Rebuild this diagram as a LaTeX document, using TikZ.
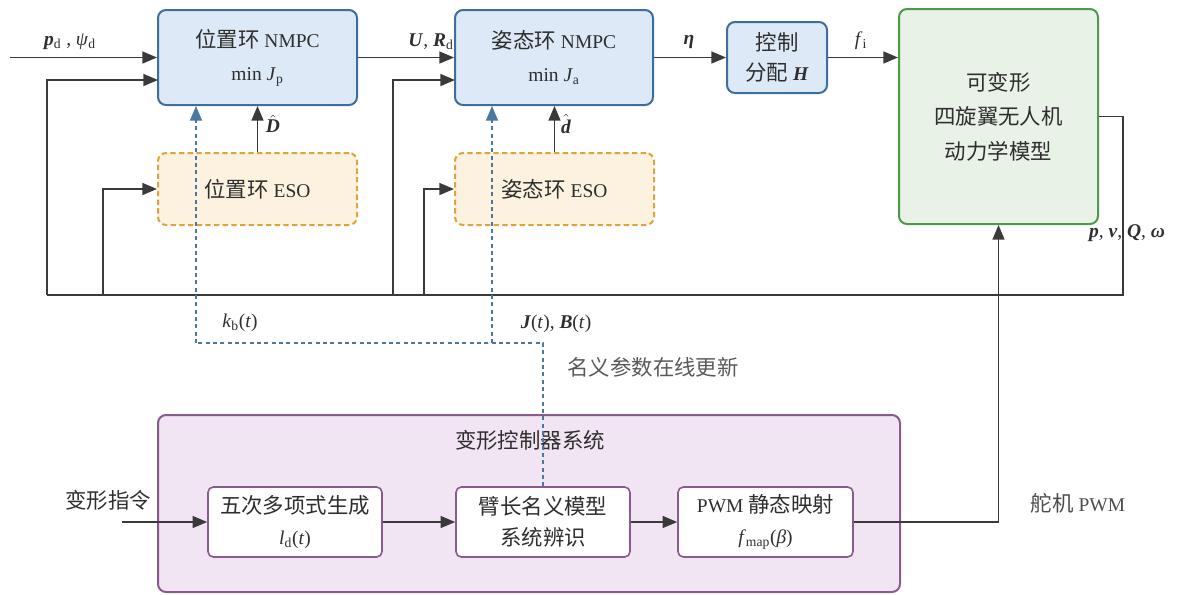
\documentclass[tikz,border=0pt]{standalone}
\usepackage{amsmath}
\usepackage{fontspec}
\setmainfont{Liberation Serif}
\newfontfamily\cjk[Scale=1.1]{Noto Sans CJK SC}
\usetikzlibrary{arrows.meta,calc}
\definecolor{ln}{HTML}{3A3A3A}
\definecolor{bfill}{HTML}{DDE9F6}
\definecolor{bdraw}{HTML}{3F6E9C}
\definecolor{gfill}{HTML}{E8F2E6}
\definecolor{gdraw}{HTML}{4E9A4A}
\definecolor{ofill}{HTML}{FDF2DF}
\definecolor{odraw}{HTML}{E0A23A}
\definecolor{pfill}{HTML}{F2E5F3}
\definecolor{pdraw}{HTML}{8A5A8E}
\definecolor{dblue}{HTML}{4A78A2}
\definecolor{txt}{HTML}{2E2E2E}
\newcommand\bi[1]{\textbf{\textit{#1}}}
\begin{document}
\begin{tikzpicture}[x=0.75pt,y=-0.75pt,
  every node/.style={text=txt,font=\fontsize{14.6}{25}\selectfont},
  box/.style={draw,rounded corners=6pt,line width=1.5pt,align=center,inner sep=0pt},
  bluebox/.style={box,draw=bdraw,fill=bfill},
  greenbox/.style={box,draw=gdraw,fill=gfill},
  esobox/.style={box,draw=odraw,fill=ofill,dashed,dash pattern=on 4pt off 2.5pt},
  purplebox/.style={box,draw=pdraw,fill=pfill},
  whitebox/.style={box,draw=pdraw,fill=white,line width=1.2pt,rounded corners=4pt},
  wire/.style={draw=ln,line width=1.1pt},
  arr/.style={wire,-{Triangle[length=11pt,width=9pt]}},
  bdash/.style={draw=dblue,line width=1pt,dash pattern=on 3pt off 2.5pt},
  barr/.style={bdash,-{Triangle[length=11pt,width=9pt,fill=dblue]}},
  lbl/.style={inner sep=1pt}
]
\useasboundingbox (0,0) rectangle (1177,594);

% boxes
\node[bluebox,minimum width=149.25pt,minimum height=71.25pt] (b1) at (257.5,57.5) {{\cjk 位置环} NMPC\\min \textit{J}\textsubscript{p}};
\node[bluebox,minimum width=148.5pt,minimum height=71.25pt] (b2) at (554,57.5) {{\cjk 姿态环} NMPC\\min \textit{J}\textsubscript{a}};
\node[bluebox,minimum width=75pt,minimum height=53.25pt,font=\fontsize{14.6}{23}\selectfont] (h) at (777,57.5) {{\cjk 控制}\\{\cjk 分配} \bi{H}};
\node[greenbox,minimum width=149.25pt,minimum height=161.25pt,font=\fontsize{14.6}{26}\selectfont] (pl) at (998.5,116.5) {{\cjk 可变形}\\{\cjk 四旋翼无人机}\\{\cjk 动力学模型}};
\node[esobox,minimum width=149.25pt,minimum height=54pt] (e1) at (257.5,189) {{\cjk 位置环} ESO};
\node[esobox,minimum width=149.25pt,minimum height=54pt] (e2) at (554.5,189) {{\cjk 姿态环} ESO};

\node[purplebox,minimum width=556.5pt,minimum height=132.75pt] (pu) at (529,503.5) {};
\node (put) at (530,440) {\cjk 变形控制器系统};
\node[whitebox,minimum width=130.5pt,minimum height=52.5pt,font=\fontsize{14.6}{23}\selectfont] (i1) at (295,522) {{\cjk 五次多项式生成}\\\textit{l}\textsubscript{d}(\textit{t})};
\node[whitebox,minimum width=130.5pt,minimum height=52.5pt,font=\fontsize{14.6}{23}\selectfont] (i2) at (543,522) {{\cjk 臂长名义模型}\\{\cjk 系统辨识}};
\node[whitebox,minimum width=131.25pt,minimum height=52.5pt,font=\fontsize{14.6}{23}\selectfont] (i3) at (765.5,522) {PWM {\cjk 静态映射}\\\textit{f}\textsubscript{map}(\textit{β})};

% coordinates
\coordinate (in0) at (10,57.5);
\coordinate (fbR) at (1123,295);
\coordinate (fbL) at (47,295);
\coordinate (j1) at (103,295);
\coordinate (j2) at (393,295);
\coordinate (j3) at (424,295);
\coordinate (b1in) at (158,80);
\coordinate (b2in) at (455,80);
\coordinate (dj) at (543,343);
\coordinate (dk) at (196,343);
\coordinate (dJ) at (492,343);
\coordinate (cmd) at (122,522);

% main chain
\draw[arr] (in0) -- (b1.west);
\draw[arr] (b1.east) -- (b2.west);
\draw[arr] (b2.east) -- (h.west);
\draw[arr] (h.east) -- (h.east -| pl.west);
\draw[arr] (e1.north) -- (b1.south);
\draw[arr] (e2.north) -- (b2.south -| e2.north);

% feedback
\draw[wire] (pl.east) -| (fbR) -- (fbL);
\draw[arr] (fbL) |- (b1in);
\draw[arr] (j1) |- (e1.west);
\draw[arr] (j2) |- (b2in);
\draw[arr] (j3) |- (e2.west);

% deformation chain
\draw[arr] (cmd) -- (i1.west);
\draw[arr] (i1.east) -- (i2.west);
\draw[arr] (i2.east) -- (i3.west);
\draw[arr] (i3.east) -| (pl.south);

% dashed parameter update
\draw[bdash] (i2.north) -- (dj) -- (dk);
\draw[barr] (dk) -- (b1.south -| dk);
\draw[barr] (dJ) -- (b2.south -| dJ);

% labels
\node[lbl] (lp) at (70,42) {\bi{p}\textsubscript{d} , \textit{ψ}\textsubscript{d}};
\node[lbl] (lU) at (431,42) {\bi{U}, \bi{R}\textsubscript{d}};
\node[lbl] (leta) at (689,42) {\bi{η}};
\node[lbl] (lf) at (861,41) {\textit{f}\textsubscript{i}};
\node[lbl] (lD) at (273,124) {$\hat{\text{\bi{D}}}$};
\node[lbl] (ld) at (566,124) {$\hat{\text{\bi{d}}}$};
\node[lbl] (lk) at (240,323) {\textit{k}\textsubscript{b}(\textit{t})};
\node[lbl] (lJ) at (556,324) {\bi{J}(\textit{t}), \bi{B}(\textit{t})};
\node[lbl,text=black!65] (lup) at (653,367) {\cjk 名义参数在线更新};
\node[lbl] (lout) at (1127,233) {\bi{p}, \bi{v}, \bi{Q}, \bi{ω}};
\node[lbl] (lcmd) at (108,500) {\cjk 变形指令};
\node[lbl,text=black!70] (lpwm) at (1078,503) {{\cjk 舵机} PWM};
\end{tikzpicture}
\end{document}
